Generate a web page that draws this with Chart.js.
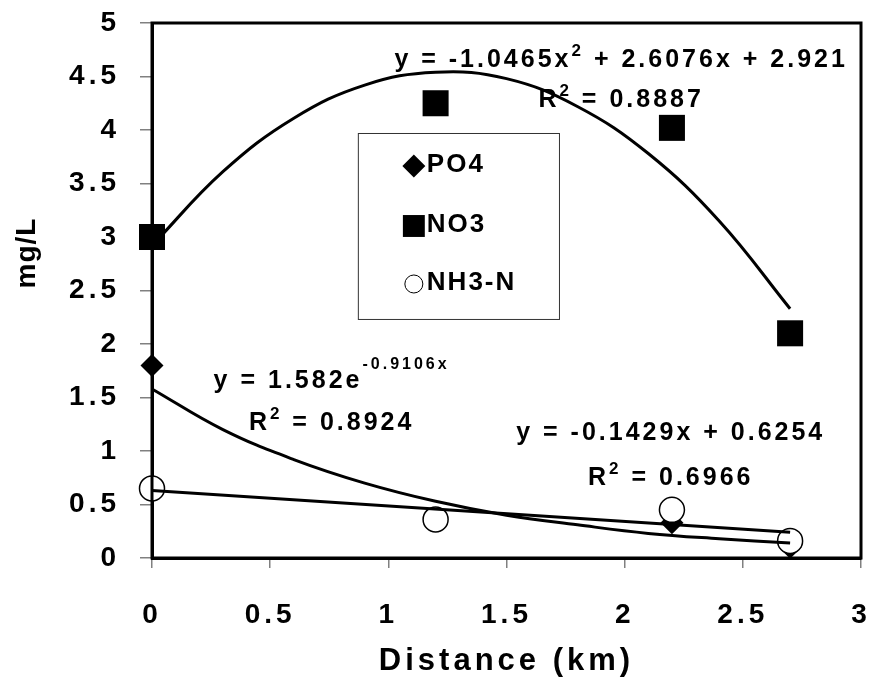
<!DOCTYPE html>
<html>
<head>
<meta charset="utf-8">
<script src="https://cdn.jsdelivr.net/npm/chart.js@4"></script>
<style>
  html, body { margin: 0; padding: 0; background: #fff; }
  #wrap { width: 872px; height: 680px; }
</style>
</head>
<body>
<div id="wrap"><canvas id="myChart" width="872" height="680"></canvas></div>
<script>
// measured values
const distance = [0, 1.2, 2.2, 2.7];
const po4 = [1.8, 0.37, 0.33, 0.1];
const no3 = [3.0, 4.25, 4.02, 2.1];
const nh3n = [0.65, 0.36, 0.45, 0.16];

// trendlines
const fitDistance = [0, 0.3, 0.6, 0.9, 1.2, 1.5, 1.8, 2.1, 2.4, 2.7];
const no3Fit = [2.92, 3.61, 4.11, 4.42, 4.54, 4.48, 4.22, 3.78, 3.15, 2.33];
const po4Fit = [1.58, 1.2, 0.92, 0.7, 0.53, 0.4, 0.31, 0.23, 0.18, 0.14];
const nh3Distance = [0, 2.7];
const nh3Fit = [0.63, 0.24];

const xTicks = [0, 0.5, 1, 1.5, 2, 2.5, 3];
const yTicks = [0, 0.5, 1, 1.5, 2, 2.5, 3, 3.5, 4, 4.5, 5];

const seriesNames = ['PO4', 'NO3', 'NH3-N'];

// equation labels (text only, placement below)
const equations = [
  [{ t: 'y = -1.0465x' }, { t: '2', sup: 1 }, { t: ' + 2.6076x + 2.921' }],
  [{ t: 'R' }, { t: '2', sup: 1 }, { t: ' = 0.8887' }],
  [{ t: 'y = 1.582e' }, { t: '-0.9106x', sup: 2 }],
  [{ t: 'R' }, { t: '2', sup: 1 }, { t: ' = 0.8924' }],
  [{ t: 'y = -0.1429x + 0.6254' }],
  [{ t: 'R' }, { t: '2', sup: 1 }, { t: ' = 0.6966' }],
];
const equationPos = [
  [1.985, 4.59], [1.985, 4.215],
  [0.76, 1.589], [0.76, 1.196],
  [2.195, 1.103], [2.195, 0.682],
];

const FONT = '"Liberation Sans", Arial, sans-serif';

function pts(xs, ys) {
  return xs.map((x, i) => ({ x: x, y: ys[i] }));
}

function noPadding(s) {
  s.getPadding = () => ({ left: 0, top: 0, right: 0, bottom: 0 });
}

function drawRich(ctx, parts, cx, y) {
  const fonts = { 0: 'bold 25px ' + FONT, 1: 'bold 17px ' + FONT, 2: 'bold 16px ' + FONT };
  const rise = { 0: 0, 1: 11, 2: 19 };
  let w = 0;
  parts.forEach((p) => {
    ctx.font = fonts[p.sup || 0];
    w += ctx.measureText(p.t).width;
  });
  let x = cx - w / 2;
  parts.forEach((p) => {
    ctx.font = fonts[p.sup || 0];
    ctx.fillText(p.t, x, y - rise[p.sup || 0]);
    x += ctx.measureText(p.t).width;
  });
}

const extras = {
  id: 'extras',
  beforeLayout(chart) {
    chart.ctx.letterSpacing = '4px';
  },
  beforeDraw(chart) {
    chart.ctx.letterSpacing = '4px';
  },
  afterDraw(chart) {
    const ctx = chart.ctx;
    const a = chart.chartArea;
    const xs = chart.scales.x;
    const ys = chart.scales.y;
    ctx.save();

    // box around plot
    ctx.strokeStyle = '#000';
    ctx.lineWidth = 3;
    ctx.strokeRect(a.left, a.top, a.right - a.left, a.bottom - a.top);

    // equations
    ctx.fillStyle = '#000';
    ctx.letterSpacing = '3px';
    ctx.textAlign = 'left';
    ctx.textBaseline = 'alphabetic';
    equations.forEach((eq, i) => {
      drawRich(ctx, eq, xs.getPixelForValue(equationPos[i][0]), ys.getPixelForValue(equationPos[i][1]));
    });

    // legend box
    const lx = xs.getPixelForValue(0.871);
    const rx = xs.getPixelForValue(1.722);
    const ty = ys.getPixelForValue(3.972);
    const by = ys.getPixelForValue(2.234);
    ctx.fillStyle = '#fff';
    ctx.fillRect(lx, ty, rx - lx, by - ty);
    ctx.strokeStyle = '#333';
    ctx.lineWidth = 1;
    ctx.strokeRect(lx + 0.5, ty + 0.5, rx - lx, by - ty);

    const marks = [
      { pointStyle: 'rectRot', radius: 11.5, fill: '#000', rowY: 166 },
      { pointStyle: 'rect', radius: 15.5, fill: '#000', rowY: 226 },
      { pointStyle: 'circle', radius: 9, fill: '#fff', rowY: 284 },
    ];
    ctx.font = 'bold 26px ' + FONT;
    ctx.letterSpacing = '2px';
    ctx.textBaseline = 'middle';
    marks.forEach((m, i) => {
      const my = ty + (m.rowY - 133);
      ctx.fillStyle = m.fill;
      ctx.strokeStyle = '#000';
      Chart.helpers.drawPoint(ctx, {
        pointStyle: m.pointStyle, radius: m.radius, rotation: 0,
        borderWidth: m.fill === '#fff' ? 1.5 : 0,
      }, lx + 56, my);
      ctx.fillStyle = '#000';
      ctx.fillText(seriesNames[i], lx + 69, my - 1);
    });

    // y title
    ctx.translate(27, ys.getPixelForValue(2.85));
    ctx.rotate(-Math.PI / 2);
    ctx.textAlign = 'center';
    ctx.textBaseline = 'middle';
    ctx.letterSpacing = '1px';
    ctx.font = 'bold 28px ' + FONT;
    ctx.fillText('mg/L', 0, 0);
    ctx.restore();
  },
};

const ctx = document.getElementById('myChart').getContext('2d');

const myChart = new Chart(ctx, {
  type: 'scatter',
  data: {
    datasets: [
      { label: 'NO3 fit', data: pts(fitDistance, no3Fit), showLine: true, tension: 0.4,
        borderColor: '#000', borderWidth: 3, pointRadius: 0, order: 0, clip: false },
      { label: 'PO4 fit', data: pts(fitDistance, po4Fit), showLine: true, tension: 0.4,
        borderColor: '#000', borderWidth: 3, pointRadius: 0, order: 0, clip: false },
      { label: 'NH3-N fit', data: pts(nh3Distance, nh3Fit), showLine: true,
        borderColor: '#000', borderWidth: 3, pointRadius: 0, order: 0, clip: false },
      { label: seriesNames[2], data: pts(distance, nh3n), pointStyle: 'circle', pointRadius: 12.5,
        backgroundColor: '#fff', borderColor: '#000', borderWidth: 1.5, order: 1, clip: false },
      { label: seriesNames[1], data: pts(distance, no3), pointStyle: 'rect', pointRadius: 18.4,
        backgroundColor: '#000', borderColor: '#000', borderWidth: 0, order: 2, clip: false },
      { label: seriesNames[0], data: pts(distance, po4), pointStyle: 'rectRot', pointRadius: 11.5,
        backgroundColor: '#000', borderColor: '#000', borderWidth: 0, order: 3, clip: false },
    ],
  },
  options: {
    responsive: false,
    animation: false,
    layout: { autoPadding: false, padding: { top: 23, right: 11, left: 0, bottom: 0 } },
    plugins: { legend: { display: false }, tooltip: { enabled: false } },
    elements: { point: { hoverRadius: 0 } },
    scales: {
      x: {
        type: 'linear', min: 0, max: 3,
        afterBuildTicks: (s) => { s.ticks = xTicks.map((v) => ({ value: v })); },
        afterFit: (s) => { s.height = 122; noPadding(s); },
        grid: { drawOnChartArea: false, drawTicks: true, tickLength: 10, color: '#808080', lineWidth: 1.5 },
        border: { display: true, color: '#000', width: 3 },
        ticks: { color: '#000', font: { family: FONT, size: 28, weight: 'bold' }, padding: 30, maxRotation: 0,
          callback: (v) => String(v) },
        title: { display: true, text: 'Distance (km)', color: '#000',
          font: { family: FONT, size: 31, weight: 'bold' }, padding: { top: 0, bottom: 0 } },
      },
      y: {
        type: 'linear', min: 0, max: 5,
        afterBuildTicks: (s) => { s.ticks = yTicks.map((v) => ({ value: v })); },
        afterFit: (s) => { s.width = 152; noPadding(s); },
        grid: { drawOnChartArea: false, drawTicks: true, tickLength: 12, color: '#808080', lineWidth: 1.5 },
        border: { display: true, color: '#000', width: 3 },
        ticks: { color: '#000', font: { family: FONT, size: 28, weight: 'bold' }, padding: 20,
          callback: (v) => String(v) },
      },
    },
  },
  plugins: [extras],
});
</script>
</body>
</html>
